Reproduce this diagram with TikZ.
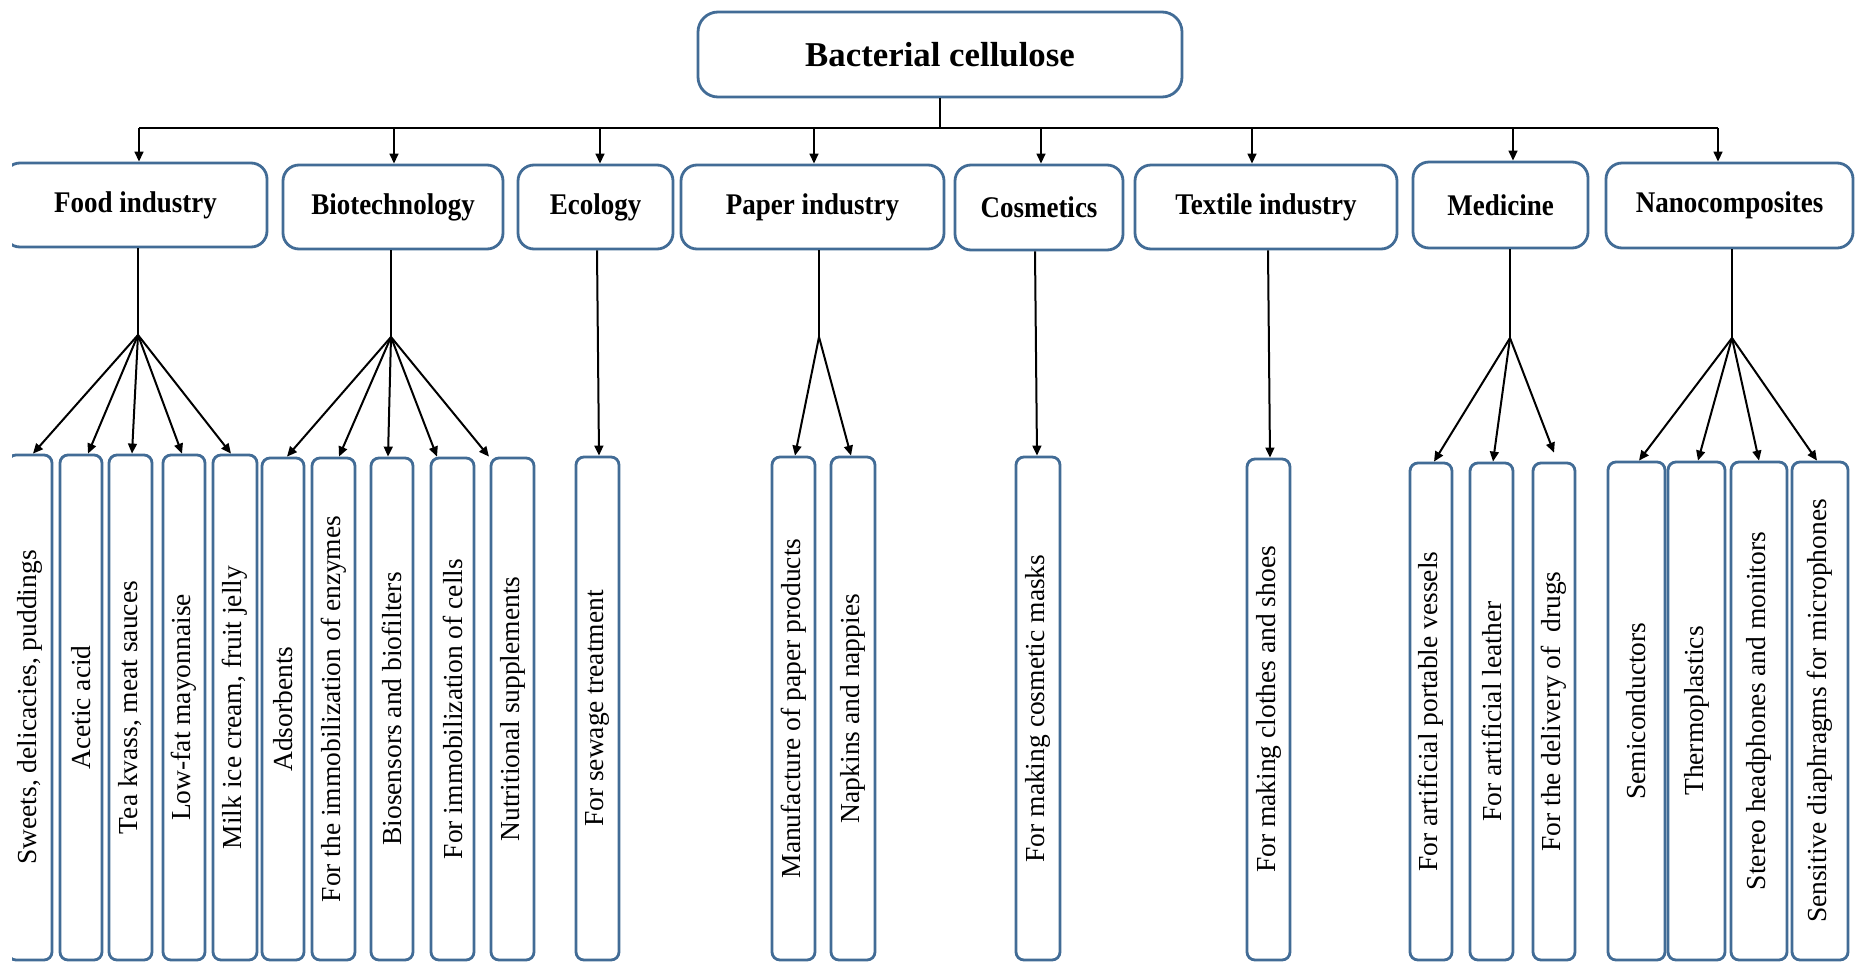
\documentclass[tikz,border=0pt]{standalone}
\usepackage{fontspec}
\setmainfont{Liberation Serif}
\usetikzlibrary{arrows.meta,calc}
\definecolor{boxblue}{RGB}{66,108,150}
\tikzset{
  box/.style={draw=boxblue, line width=1.4pt, fill=white, inner sep=0pt},
  topbox/.style={box, rounded corners=10pt, font=\fontsize{17.4pt}{20pt}\selectfont\bfseries},
  catbox/.style={box, rounded corners=8pt, font=\fontsize{15pt}{18pt}\selectfont\bfseries},
  leafbox/.style={box, rounded corners=4pt, font=\fontsize{13.75pt}{16pt}\selectfont},
  conn/.style={draw=black, line width=1pt},
  arr/.style={conn, -{Triangle[length=5pt,width=4.4pt]}},
}
% #1 name, #2 style, #3 x1, #4 y1, #5 x2, #6 y2, #7 text
\newcommand\mkbox[7]{%
  \pgfmathsetmacro\bxcx{(#3+#5)/2}%
  \pgfmathsetmacro\bxcy{(#4+#6)/2}%
  \pgfmathsetmacro\bxw{(#5-#3)*0.5}%
  \pgfmathsetmacro\bxh{(#6-#4)*0.5}%
  \node[#2, minimum width=\bxw pt, minimum height=\bxh pt] (#1) at (\bxcx,\bxcy) {#7};}
\newcommand\mkleaf[5]{\mkbox{#1}{leafbox}{#2}{#3}{#4}{960}{\rotatebox{90}{#5}}}
\newcommand\mkcat[6]{\mkbox{#1}{catbox}{#2}{#3}{#4}{#5}{\scalebox{0.9}[1]{#6}}}
\begin{document}
\begin{tikzpicture}[x=0.5pt,y=-0.5pt]
\fill[white] (0,0) rectangle (1857,964);
\useasboundingbox (0,0) rectangle (1857,964);
\begin{scope}
\clip (12,0) rectangle (1857,964);
% top
\mkbox{top}{topbox}{698}{12}{1182}{97}{Bacterial cellulose}
% categories
\mkcat{c1}{4}{163}{267}{247}{Food industry}
\mkcat{c2}{283}{165}{503}{249}{Biotechnology}
\mkcat{c3}{518}{165}{673}{249}{Ecology}
\mkcat{c4}{681}{165}{944}{249}{Paper industry}
\mkcat{c5}{955}{165}{1123}{250}{Cosmetics}
\mkcat{c6}{1135}{165}{1397}{249}{Textile industry}
\mkcat{c7}{1413}{162}{1588}{248}{Medicine}
\mkcat{c8}{1606}{163}{1853}{248}{Nanocomposites}
% leaves
\mkleaf{l11}{8}{455}{52}{Sweets, delicacies, puddings}
\mkleaf{l12}{60}{455}{102}{Acetic acid}
\mkleaf{l13}{109}{455}{152}{Tea kvass, meat sauces}
\mkleaf{l14}{163}{455}{205}{Low-fat mayonnaise}
\mkleaf{l15}{213}{455}{257}{Milk ice cream, fruit jelly}
\mkleaf{l21}{262}{458}{304}{Adsorbents}
\mkleaf{l22}{312}{458}{355}{For the immobilization of enzymes}
\mkleaf{l23}{371}{458}{413}{Biosensors and biofilters}
\mkleaf{l24}{431}{458}{474}{For immobilization of cells}
\mkleaf{l25}{491}{458}{534}{Nutritional supplements}
\mkleaf{l31}{576}{457}{619}{For sewage treatment}
\mkleaf{l41}{772}{457}{815}{Manufacture of paper products}
\mkleaf{l42}{831}{457}{875}{Napkins and nappies}
\mkleaf{l51}{1016}{457}{1060}{For making cosmetic masks}
\mkleaf{l61}{1247}{459}{1290}{For making clothes and shoes}
\mkleaf{l71}{1410}{463}{1452}{For artificial portable vessels}
\mkleaf{l72}{1470}{463}{1513}{For artificial leather}
\mkleaf{l73}{1533}{463}{1575}{For the delivery of\ \ drugs}
\mkleaf{l81}{1608}{462}{1665}{Semiconductors}
\mkleaf{l82}{1668}{462}{1725}{Thermoplastics}
\mkleaf{l83}{1731}{462}{1787}{Stereo headphones and monitors}
\mkleaf{l84}{1792}{462}{1848}{Sensitive diaphragms for microphones}
% bus
\coordinate (b0) at (940,128);
\coordinate (t1) at (139,128);
\coordinate (t2) at (394,128);
\coordinate (t3) at (600,128);
\coordinate (t4) at (814,128);
\coordinate (t5) at (1041,128);
\coordinate (t6) at (1252,128);
\coordinate (t7) at (1513,128);
\coordinate (t8) at (1718,128);
\draw[conn] (top.south) -- (b0);
\draw[conn] (t1) -- (t8);
\foreach \i in {1,...,8}{\draw[arr] (t\i) -- (t\i |- c\i.north);}
% fans
\coordinate (f1) at (138,335);
\coordinate (f2) at (391,337);
\coordinate (f4) at (819,337);
\coordinate (f7) at (1510,338);
\coordinate (f8) at (1732,338);
\coordinate (s3) at (597,0);
\coordinate (s5) at (1035,0);
\coordinate (s6) at (1268,0);
\foreach \f/\c in {f1/c1,f2/c2,f4/c4,f7/c7,f8/c8}{\draw[conn] (\f |- \c.south) -- (\f);}
\draw[arr] (f1) -- ($(l11.north)+(3,0)$);
\draw[arr] (f1) -- ($(l12.north)+(7,0)$);
\draw[arr] (f1) -- ($(l13.north)+(1.5,0)$);
\draw[arr] (f1) -- ($(l14.north)+(-2,0)$);
\draw[arr] (f1) -- ($(l15.north)+(-4,0)$);
\draw[arr] (f2) -- ($(l21.north)+(4,0)$);
\draw[arr] (f2) -- ($(l22.north)+(5.5,0)$);
\draw[arr] (f2) -- ($(l23.north)+(-4,0)$);
\draw[arr] (f2) -- ($(l24.north)+(-15.5,0)$);
\draw[arr] (f2) -- ($(l25.north)+(-23.5,0)$);
\draw[arr] (s3 |- c3.south) -- ($(l31.north)+(1.5,0)$);
\draw[arr] (f4) -- ($(l41.north)+(1.5,0)$);
\draw[arr] (f4) -- ($(l42.north)+(-2,0)$);
\draw[arr] (s5 |- c5.south) -- ($(l51.north)+(-1,0)$);
\draw[arr] (s6 |- c6.south) -- ($(l61.north)+(1.5,0)$);
\draw[arr] (f7) -- ($(l71.north)+(3,0)$);
\draw[arr] (f7) -- ($(l72.north)+(1.5,0)$);
\draw[arr] (f7) -- ($(l73.north)+(0,-9)$);
\draw[arr] (f8) -- ($(l81.north)+(2.5,0)$);
\draw[arr] (f8) -- ($(l82.north)+(1.5,0)$);
\draw[arr] (f8) -- ($(l83.north)+(0,0)$);
\draw[arr] (f8) -- ($(l84.north)+(-3,0)$);
\end{scope}
\end{tikzpicture}
\end{document}
